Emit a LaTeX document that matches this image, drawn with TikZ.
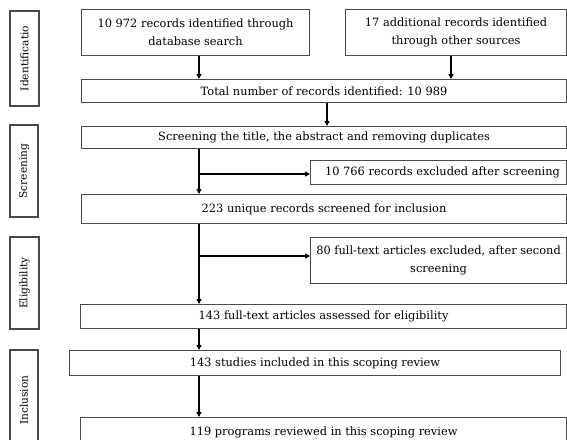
\documentclass[tikz,border=0pt]{standalone}
\usepackage{fontspec}
\setmainfont{DejaVu Serif}
\usetikzlibrary{arrows.meta}
\definecolor{edge}{HTML}{4A4A4A}
\tikzset{
  box/.style={draw=edge, line width=1.1pt, inner sep=0pt, anchor=north west, align=center,
    font=\fontsize{11.4}{18}\selectfont, text=black},
  side/.style={draw=edge, line width=1.1pt, inner sep=0pt, rotate=90, anchor=center,
    font=\fontsize{10.6}{12}\selectfont, text=black},
  arr/.style={draw=black, line width=1.3pt, -{Triangle[length=5pt,width=5pt]}},
}
\begin{document}
\begin{tikzpicture}[x=1pt,y=-1pt]
\useasboundingbox (0,0) rectangle (567,439);
% side labels
\node[side, minimum width=95, minimum height=29] (s1) at (24.5,58.5) {Identificatio};
\node[side, minimum width=92, minimum height=28] (s2) at (24,171) {Screening};
\node[side, minimum width=92, minimum height=29] (s3) at (24.5,283) {Eligibility};
\node[side, minimum width=100, minimum height=28] (s4) at (24,400) {Inclusion};
% boxes
\node[box, minimum width=228, minimum height=46] (a) at (81,9) {10 972 records identified through\\database search};
\node[box, minimum width=221, minimum height=46] (b) at (345,9) {17 additional records identified\\through other sources};
\node[box, minimum width=485, minimum height=23] (tot) at (81,79) {Total number of records identified: 10 989};
\node[box, minimum width=485, minimum height=22] (scr) at (81,126) {Screening the title, the abstract and removing duplicates};
\node[box, minimum width=256, minimum height=24] (ex1) at (310,160) {\hspace*{8pt}10 766 records excluded after screening};
\node[box, minimum width=485, minimum height=29] (u) at (81,194) {223 unique records screened for inclusion};
\node[box, minimum width=256, minimum height=46] (ex2) at (310,237) {80 full-text articles excluded, after second\\screening};
\node[box, minimum width=486, minimum height=24] (ft) at (80,304) {143 full-text articles assessed for eligibility};
\node[box, minimum width=491, minimum height=25] (st) at (69,350) {143 studies included in this scoping review};
\node[box, minimum width=486, minimum height=30] (pr) at (80,417) {119 programs reviewed in this scoping review};
% coordinates
\coordinate (cx) at (199,0);
\coordinate (cb) at (451,0);
\coordinate (ct) at (327,0);
\coordinate (j1) at (199,174);
\coordinate (j2) at (199,256);
% connectors
\draw[arr] (a.south -| cx) -- (tot.north -| cx);
\draw[arr] (b.south -| cb) -- (tot.north -| cb);
\draw[arr] (tot.south -| ct) -- (scr.north -| ct);
\draw[arr] (scr.south -| cx) -- (u.north -| cx);
\draw[arr] (j1) -- (ex1.west |- j1);
\draw[arr] (u.south -| cx) -- (ft.north -| cx);
\draw[arr] (j2) -- (ex2.west |- j2);
\draw[arr] (ft.south -| cx) -- (st.north -| cx);
\draw[arr] (st.south -| cx) -- (pr.north -| cx);
\end{tikzpicture}
\end{document}
